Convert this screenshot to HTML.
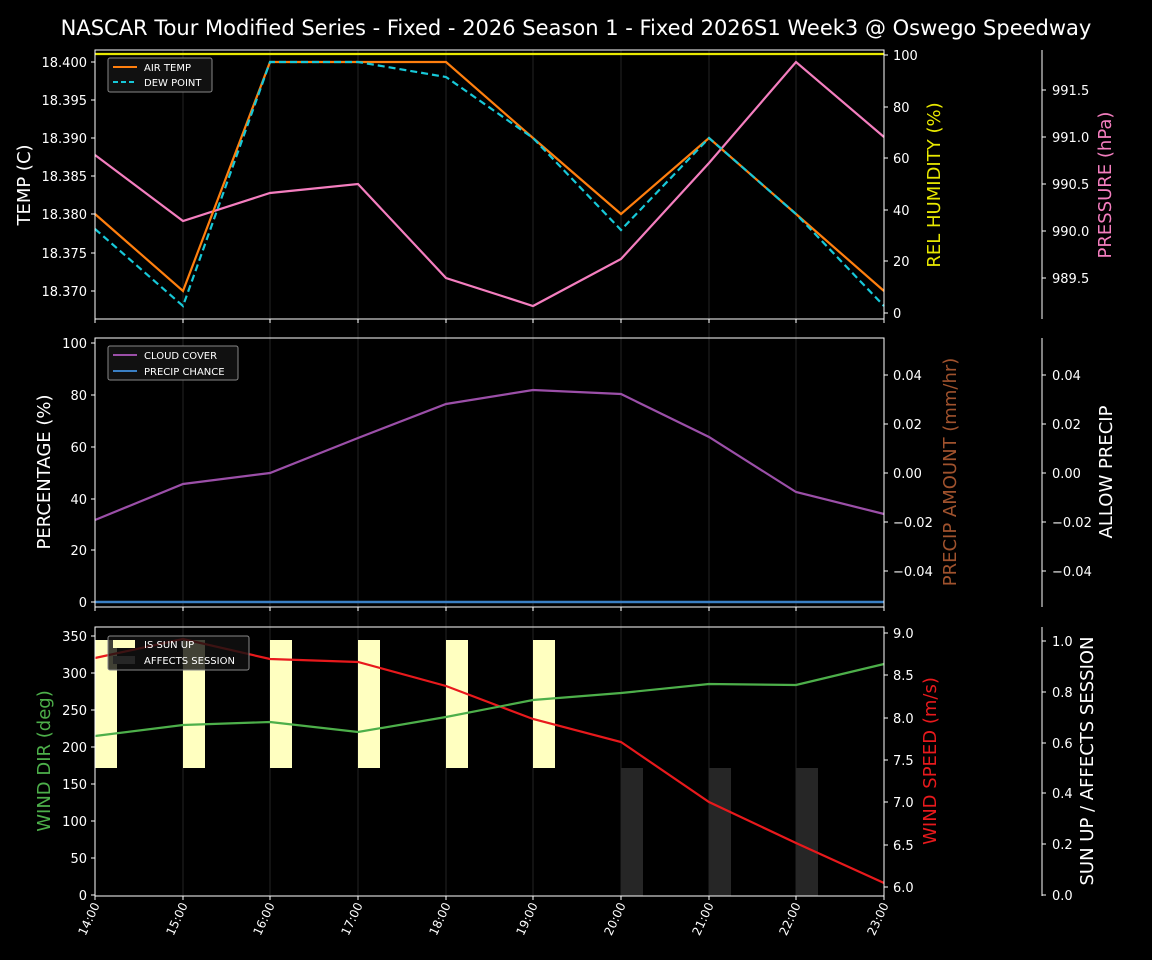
<!DOCTYPE html>
<html><head><meta charset="utf-8"><style>body{margin:0;background:#000}svg{display:block}text{font-family:"DejaVu Sans","Liberation Sans",sans-serif;fill:#fff}</style></head>
<body>
<svg width="1152" height="960" xmlns="http://www.w3.org/2000/svg">
<rect width="1152" height="960" fill="#000"/>
<text x="576" y="35" font-size="21" text-anchor="middle">NASCAR Tour Modified Series - Fixed - 2026 Season 1 - Fixed 2026S1 Week3 @ Oswego Speedway</text>
<g stroke="#181818" stroke-width="1.5">
<line x1="183" y1="50" x2="183" y2="896"/><line x1="270" y1="50" x2="270" y2="896"/><line x1="358" y1="50" x2="358" y2="896"/><line x1="446" y1="50" x2="446" y2="896"/><line x1="533" y1="50" x2="533" y2="896"/><line x1="621" y1="50" x2="621" y2="896"/><line x1="709" y1="50" x2="709" y2="896"/><line x1="796" y1="50" x2="796" y2="896"/>
</g>
<!-- Panel 1 -->
<g fill="none" stroke-width="2.2">
<polyline stroke="#e8e800" points="95,54 884,54"/>
<polyline stroke="#f47ebf" points="95,155 183,221 270,193 358,184 446,278 533,306 621,259 709,163 796,62 884,137"/>
<polyline stroke="#ff7f0e" points="95,214 183,291 270,62 358,62 446,62 533,138 621,214 709,138 796,214 884,291"/>
<polyline stroke="#17c8d8" stroke-dasharray="7,4" points="95,229 183,306 270,62 358,62 446,77 533,138 621,230 709,138 796,214 884,306"/>
</g>
<rect x="95" y="50" width="789" height="269" fill="none" stroke="#fff"/>
<g stroke="#fff">
<path d="M91,62h4M91,100h4M91,138h4M91,176h4M91,214h4M91,253h4M91,291h4"/>
<path d="M884,55h4M884,107h4M884,158h4M884,210h4M884,261h4M884,313h4"/>
<path d="M1042,90h4M1042,137h4M1042,184h4M1042,231h4M1042,278h4"/>
<path d="M95,319v4M183,319v4M270,319v4M358,319v4M446,319v4M533,319v4M621,319v4M709,319v4M796,319v4M884,319v4"/>
<path d="M95,607v4M183,607v4M270,607v4M358,607v4M446,607v4M533,607v4M621,607v4M709,607v4M796,607v4M884,607v4"/>
<path d="M95,896v4M183,896v4M270,896v4M358,896v4M446,896v4M533,896v4M621,896v4M709,896v4M796,896v4M884,896v4"/>
<path d="M91,343h4M91,395h4M91,447h4M91,499h4M91,550h4M91,602h4"/>
<path d="M884,375h4M884,424h4M884,473h4M884,522h4M884,571h4M1042,375h4M1042,424h4M1042,473h4M1042,522h4M1042,571h4"/>
<path d="M91,636h4M91,673h4M91,710h4M91,747h4M91,784h4M91,821h4M91,858h4M91,895h4"/>
<path d="M884,633h4M884,675h4M884,718h4M884,760h4M884,802h4M884,845h4M884,887h4"/>
<path d="M1042,641h4M1042,692h4M1042,743h4M1042,793h4M1042,844h4M1042,895h4"/>
</g>
<g font-size="13" text-anchor="end">
<text x="87" y="67">18.400</text><text x="87" y="105">18.395</text><text x="87" y="143">18.390</text><text x="87" y="181">18.385</text><text x="87" y="219">18.380</text><text x="87" y="258">18.375</text><text x="87" y="296">18.370</text>
</g>
<g font-size="13">
<text x="893" y="60">100</text><text x="893" y="112">80</text><text x="893" y="163">60</text><text x="893" y="215">40</text><text x="893" y="266">20</text><text x="893" y="318">0</text>
<text x="1052" y="95">991.5</text><text x="1052" y="142">991.0</text><text x="1052" y="189">990.5</text><text x="1052" y="236">990.0</text><text x="1052" y="283">989.5</text>
</g>
<line x1="1042" y1="50" x2="1042" y2="319" stroke="#fff"/>
<text transform="translate(30,185) rotate(-90)" font-size="18" text-anchor="middle">TEMP (C)</text>
<text transform="translate(940,185) rotate(-90)" font-size="18" text-anchor="middle" style="fill:#e8e800">REL HUMIDITY (%)</text>
<text transform="translate(1111,185) rotate(-90)" font-size="18" text-anchor="middle" style="fill:#f47ebf">PRESSURE (hPa)</text>
<rect x="108" y="58" width="104" height="34" fill="#111" stroke="#888" rx="2"/>
<line x1="113" y1="67" x2="137" y2="67" stroke="#ff7f0e" stroke-width="2"/><text x="144" y="71" font-size="10">AIR TEMP</text>
<line x1="113" y1="82" x2="137" y2="82" stroke="#17c8d8" stroke-width="2" stroke-dasharray="5,3"/><text x="144" y="86" font-size="10">DEW POINT</text>
<!-- Panel 2 -->
<polyline fill="none" stroke="#9b4fa8" stroke-width="2.2" points="95,520 183,484 270,473 358,438 446,404 533,390 621,394 709,437 796,492 884,514"/>
<line x1="95" y1="602" x2="884" y2="602" stroke="#3a7fc4" stroke-width="2.5"/>
<rect x="95" y="338" width="789" height="269" fill="none" stroke="#fff"/>
<g font-size="13" text-anchor="end">
<text x="87" y="348">100</text><text x="87" y="400">80</text><text x="87" y="452">60</text><text x="87" y="504">40</text><text x="87" y="555">20</text><text x="87" y="607">0</text>
</g>
<g font-size="13">
<text x="893" y="380">0.04</text><text x="893" y="429">0.02</text><text x="893" y="478">0.00</text><text x="893" y="527">−0.02</text><text x="893" y="576">−0.04</text>
<text x="1052" y="380">0.04</text><text x="1052" y="429">0.02</text><text x="1052" y="478">0.00</text><text x="1052" y="527">−0.02</text><text x="1052" y="576">−0.04</text>
</g>
<line x1="1042" y1="338" x2="1042" y2="607" stroke="#fff"/>
<text transform="translate(50,472) rotate(-90)" font-size="18" text-anchor="middle">PERCENTAGE (%)</text>
<text transform="translate(956,472) rotate(-90)" font-size="18" text-anchor="middle" style="fill:#a0522d">PRECIP AMOUNT (mm/hr)</text>
<text transform="translate(1112,472) rotate(-90)" font-size="18" text-anchor="middle">ALLOW PRECIP</text>
<rect x="108" y="346" width="130" height="34" fill="#111" stroke="#888" rx="2"/>
<line x1="113" y1="355" x2="137" y2="355" stroke="#9b4fa8" stroke-width="2"/><text x="144" y="359" font-size="10">CLOUD COVER</text>
<line x1="113" y1="371" x2="137" y2="371" stroke="#3a7fc4" stroke-width="2"/><text x="144" y="375" font-size="10">PRECIP CHANCE</text>
<!-- Panel 3 -->
<g fill="#ffffc0">
<rect x="95" y="640" width="22" height="128"/><rect x="183" y="640" width="22" height="128"/><rect x="270" y="640" width="22" height="128"/><rect x="358" y="640" width="22" height="128"/><rect x="446" y="640" width="22" height="128"/><rect x="533" y="640" width="22" height="128"/>
</g>
<g fill="#262626">
<rect x="621" y="768" width="22" height="128"/><rect x="709" y="768" width="22" height="128"/><rect x="796" y="768" width="22" height="128"/>
</g>
<polyline fill="none" stroke="#e8191c" stroke-width="2.2" points="95,658 183,639 270,659 358,662 446,686 533,719 621,742 709,802 796,843 884,883"/>
<polyline fill="none" stroke="#4daf4a" stroke-width="2.2" points="95,736 183,725 270,722 358,732 446,717 533,700 621,693 709,684 796,685 884,664"/>
<rect x="95" y="627" width="789" height="269" fill="none" stroke="#fff"/>
<g font-size="13" text-anchor="end">
<text x="87" y="641">350</text><text x="87" y="678">300</text><text x="87" y="715">250</text><text x="87" y="752">200</text><text x="87" y="789">150</text><text x="87" y="826">100</text><text x="87" y="863">50</text><text x="87" y="900">0</text>
</g>
<g font-size="13">
<text x="893" y="638">9.0</text><text x="893" y="680">8.5</text><text x="893" y="723">8.0</text><text x="893" y="765">7.5</text><text x="893" y="807">7.0</text><text x="893" y="850">6.5</text><text x="893" y="892">6.0</text>
<text x="1052" y="646">1.0</text><text x="1052" y="697">0.8</text><text x="1052" y="748">0.6</text><text x="1052" y="798">0.4</text><text x="1052" y="849">0.2</text><text x="1052" y="900">0.0</text>
</g>
<line x1="1042" y1="627" x2="1042" y2="896" stroke="#fff"/>
<text transform="translate(50,761) rotate(-90)" font-size="18" text-anchor="middle" style="fill:#4daf4a">WIND DIR (deg)</text>
<text transform="translate(936,761) rotate(-90)" font-size="18" text-anchor="middle" style="fill:#e8191c">WIND SPEED (m/s)</text>
<text transform="translate(1093,761) rotate(-90)" font-size="18" text-anchor="middle">SUN UP / AFFECTS SESSION</text>
<rect x="108" y="636" width="141" height="34" fill="#111" fill-opacity="0.8" stroke="#888" rx="2"/>
<rect x="113" y="640" width="22" height="8" fill="#ffffc0"/><text x="144" y="648" font-size="10">IS SUN UP</text>
<rect x="113" y="656" width="22" height="8" fill="#262626"/><text x="144" y="664" font-size="10">AFFECTS SESSION</text>
<!-- x ticks -->
<g font-size="12" text-anchor="end">
<text transform="translate(100,905) rotate(-65)">14:00</text><text transform="translate(188,905) rotate(-65)">15:00</text><text transform="translate(275,905) rotate(-65)">16:00</text><text transform="translate(363,905) rotate(-65)">17:00</text><text transform="translate(451,905) rotate(-65)">18:00</text><text transform="translate(538,905) rotate(-65)">19:00</text><text transform="translate(626,905) rotate(-65)">20:00</text><text transform="translate(714,905) rotate(-65)">21:00</text><text transform="translate(801,905) rotate(-65)">22:00</text><text transform="translate(889,905) rotate(-65)">23:00</text>
</g>
</svg>
</body></html>
